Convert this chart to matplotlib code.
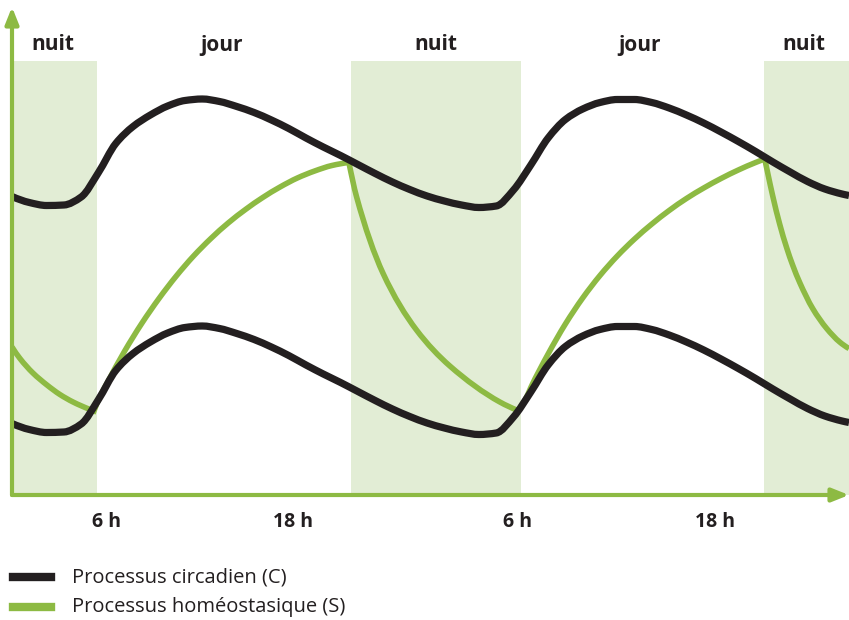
import numpy as np
import matplotlib.pyplot as plt
from matplotlib.lines import Line2D
from matplotlib.path import Path
from matplotlib.patches import PathPatch

GREEN = "#8dba43"
BAND = "#e2edd5"
BLACK = "#231f20"

# time axis in hours from the vertical axis, levels in arbitrary units
hours = list(range(49)) + [48.4]

# circadian process, upper threshold
c_upper = [59.7, 58.5, 57.9, 58.0, 59.6, 64.5, 70.3, 73.7, 76.0, 77.8,
           78.9, 79.2, 78.7, 77.7, 76.5, 75.0, 73.3, 71.4, 69.6, 67.9,
           66.1, 64.3, 62.6, 61.1, 59.8, 58.8, 58.0, 57.5, 57.8, 61.0,
           66.0, 71.4, 75.1, 77.2, 78.5, 79.1, 79.1, 78.5, 77.4, 76.0,
           74.4, 72.6, 70.7, 68.7, 66.6, 64.6, 62.7, 61.2, 60.2, 59.9]

# circadian process, lower threshold
c_lower = [14.3, 13.1, 12.5, 12.6, 14.2, 19.1, 24.9, 28.3, 30.6, 32.4,
           33.5, 33.8, 33.3, 32.3, 31.1, 29.6, 27.9, 26.0, 24.2, 22.5,
           20.7, 18.9, 17.2, 15.7, 14.4, 13.4, 12.6, 12.1, 12.4, 15.6,
           20.6, 26.0, 29.7, 31.8, 33.1, 33.7, 33.7, 33.1, 32.0, 30.6,
           29.0, 27.2, 25.3, 23.3, 21.2, 19.2, 17.3, 15.8, 14.8, 14.5]

# homeostatic process, one list per sleep / wake phase
s_hours = [
    [0.0, 0.46, 1.21, 2.02, 2.77, 3.53, 4.51, 4.74],
    [4.74, 5.09, 5.5, 6.5, 7.5, 8.5, 9.5, 10.5, 11.5, 12.5, 13.5, 14.5,
     15.5, 16.5, 17.5, 18.5, 19.48],
    [19.48, 19.92, 21.46, 23.39, 25.32, 28.21, 29.25],
    [29.25, 29.77, 30.0, 31.0, 32.0, 33.0, 34.0, 35.0, 36.0, 37.0, 38.0,
     39.0, 40.0, 41.0, 42.0, 43.0, 43.53],
    [43.53, 43.70, 43.99, 44.39, 44.80, 45.14, 45.55, 46.30, 47.11, 47.86,
     48.4],
]
s_level = [
    [29.6, 27.3, 24.4, 22.0, 20.1, 18.6, 17.1, 16.8],
    [16.8, 19.7, 22.4, 28.7, 34.3, 39.3, 43.8, 47.8, 51.3, 54.4, 57.1, 59.5,
     61.6, 63.4, 64.8, 65.9, 66.5],
    [66.5, 59.7, 44.3, 33.0, 25.8, 18.6, 16.9],
    [16.9, 19.7, 21.5, 28.2, 34.2, 39.4, 43.9, 47.8, 51.2, 54.2, 56.9,
     59.3, 61.4, 63.3, 65.0, 66.5, 67.2],
    [67.2, 64.4, 59.8, 54.2, 49.4, 46.0, 42.5, 37.3, 33.3, 30.6, 29.3],
]

night_start = [0.0, 19.6, 43.5]
night_end = [4.9, 29.46, 48.4]
band_top = 86.8

period_labels = ["nuit", "jour", "nuit", "jour", "nuit"]
period_pos = [2.37, 12.14, 24.5, 36.3, 45.8]

tick_pos = [5.49, 16.24, 29.25, 40.64]
tick_labels = ["6 h", "18 h", "6 h", "18 h"]

legend_labels = ["Processus circadien (C)", "Processus homéostasique (S)"]


def pchip_slopes(x, y):
    h = np.diff(x)
    d = np.diff(y) / h
    m = np.zeros_like(y)
    for k in range(1, len(x) - 1):
        if d[k - 1] * d[k] > 0:
            w1 = 2 * h[k] + h[k - 1]
            w2 = h[k] + 2 * h[k - 1]
            m[k] = (w1 + w2) / (w1 / d[k - 1] + w2 / d[k])
    for k, (ha, hb, da, db) in ((0, (h[0], h[1], d[0], d[1])),
                                (-1, (h[-1], h[-2], d[-1], d[-2]))):
        e = ((2 * ha + hb) * da - ha * db) / (ha + hb)
        if np.sign(e) != np.sign(da):
            e = 0.0
        elif np.sign(da) != np.sign(db) and abs(e) > abs(3 * da):
            e = 3 * da
        m[k] = e
    return m


def smooth_path(xs, ys, verts=None, codes=None):
    # monotone cubic through the read points, written as Bezier pieces
    x = np.asarray(xs, float)
    y = np.asarray(ys, float)
    m = pchip_slopes(x, y)
    verts = [] if verts is None else verts
    codes = [] if codes is None else codes
    if not verts:
        verts.append((x[0], y[0]))
        codes.append(Path.MOVETO)
    for k in range(len(x) - 1):
        h = x[k + 1] - x[k]
        verts += [(x[k] + h / 3, y[k] + m[k] * h / 3),
                  (x[k + 1] - h / 3, y[k + 1] - m[k + 1] * h / 3),
                  (x[k + 1], y[k + 1])]
        codes += [Path.CURVE4] * 3
    return verts, codes


plt.rcParams["font.family"] = ["Open Sans", "DejaVu Sans"]

fig = plt.figure(figsize=(8.49, 6.2), dpi=100)
ax = fig.add_axes([12 / 849, 125 / 620, 837 / 849, 495 / 620])
ax.set_xlim(0, 48.4)
ax.set_ylim(0, 99)
for s in ax.spines.values():
    s.set_visible(False)

# night bands
for a, b in zip(night_start, night_end):
    ax.fill_between([a, b], 0, band_top, color=BAND, lw=0, zorder=1)

# homeostatic process: smooth phases joined by sharp corners
verts, codes = [], []
for xs, ys in zip(s_hours, s_level):
    verts, codes = smooth_path(xs, ys, verts, codes)
ax.add_patch(PathPatch(Path(verts, codes), fill=False, edgecolor=GREEN, lw=4,
                       joinstyle="miter", capstyle="butt", zorder=3))

# circadian process at both thresholds
for ys in (c_upper, c_lower):
    v, c = smooth_path(hours, ys)
    ax.add_patch(PathPatch(Path(v, c), fill=False, edgecolor=BLACK, lw=5.2,
                           capstyle="butt", zorder=4))

# axes with arrows
arrow = dict(arrowstyle="-|>,head_length=0.5,head_width=0.2", color=GREEN,
             lw=3, shrinkA=0, shrinkB=0, mutation_scale=20)
ax.annotate("", xy=(0, 97.6), xytext=(0, 0), arrowprops=arrow,
            annotation_clip=False, zorder=5)
ax.annotate("", xy=(48.4, 0), xytext=(0, 0), arrowprops=arrow,
            annotation_clip=False, zorder=5)

for lab, x in zip(period_labels, period_pos):
    ax.text(x, 90.0, lab, ha="center", va="center", fontsize=15,
            fontweight="bold", color=BLACK)

ax.set_xticks(tick_pos, tick_labels, fontsize=14, fontweight="bold", color=BLACK)
ax.tick_params(axis="x", length=0, pad=12)
ax.set_yticks([])

# legend drawn by hand below the chart
legend_colors = [BLACK, GREEN]
legend_y = [1 - 577 / 620, 1 - 607 / 620]
for lab, col, y in zip(legend_labels, legend_colors, legend_y):
    fig.add_artist(Line2D([13 / 849, 51 / 849], [y, y], color=col, lw=6))
    fig.text(72 / 849, y, lab, va="center", ha="left", fontsize=14.5,
             color=BLACK)

plt.savefig("out.png", dpi=100)
